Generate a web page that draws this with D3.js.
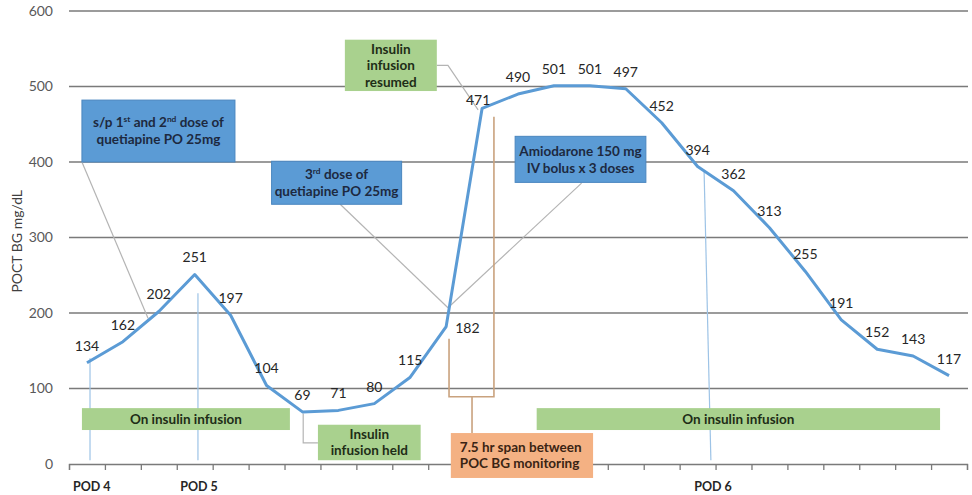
<!DOCTYPE html>
<html>
<head>
<meta charset="utf-8">
<script src="https://cdn.jsdelivr.net/npm/d3@7/dist/d3.min.js"></script>
<style>
  html, body { margin: 0; padding: 0; background: #fff; }
  svg { display: block; font-family: Lato, "Open Sans", sans-serif; }
</style>
</head>
<body>
<svg id="chart" width="972" height="495"></svg>
<script>
// Point-of-care blood glucose readings, one per sample slot
const categories = d3.range(1, 26).map(String);
const glucose = [134, 162, 202, 251, 197, 104, 69, 71, 80, 115, 182, 471, 490,
                 501, 501, 497, 452, 394, 362, 313, 255, 191, 152, 143, 117];
const yTicks = [0, 100, 200, 300, 400, 500, 600];
const yTitle = "POCT BG mg/dL";
const dayLabels = ["POD 4", "POD 5", "POD 6"];

const svg = d3.select("#chart");
const plot = { left: 69, right: 967, top: 11, bottom: 464 };

// Slot scale: slot i sits at the middle of [i, i+1]
const x = d3.scaleLinear().domain([0, categories.length]).range([plot.left, plot.right]);
const y = d3.scaleLinear().domain([0, 600]).range([plot.bottom, plot.top]);
const px = i => x(i + 0.5);

const gridColor = "#7a7a7a";
const textGrey = "#595959";

// Horizontal gridlines
svg.append("g").selectAll("line")
  .data(yTicks.filter(t => t > 0))
  .join("line")
  .attr("x1", plot.left).attr("x2", plot.right + 1)
  .attr("y1", d => y(d)).attr("y2", d => y(d))
  .attr("stroke", gridColor).attr("stroke-width", 1.3);

// Y axis labels
const yAxis = d3.axisLeft(y).tickValues(yTicks).tickSize(0).tickPadding(16);
svg.append("g").attr("transform", `translate(${plot.left},0)`).call(yAxis)
  .call(g => g.select(".domain").remove())
  .call(g => g.selectAll("text").attr("fill", textGrey)
      .style("font-size", "14px").style("font-family", "Lato, sans-serif"));

// Y title
svg.append("text")
  .attr("transform", `translate(22,${(y(300) + y(290))/2}) rotate(-90)`)
  .attr("text-anchor", "middle")
  .attr("fill", "#404040")
  .style("font-size", "14px")
  .text(yTitle);

// X axis: tick marks between slots, no tick text
const xAxis = d3.axisBottom(x).tickValues(d3.range(0, categories.length + 1))
  .tickSize(6).tickFormat("");
svg.append("g").attr("transform", `translate(0,${plot.bottom})`).call(xAxis)
  .call(g => g.selectAll("line, path").attr("stroke", gridColor).attr("stroke-width", 1.3));

// ---- annotation helpers (coordinates in slot / mg/dL units) ----
const pt = (u, v) => [x(u), y(v)];
function connector(points, color, width) {
  svg.append("path")
    .attr("d", d3.line()(points.map(p => pt(p[0], p[1]))))
    .attr("fill", "none").attr("stroke", color).attr("stroke-width", width || 1);
}
function box(u0, u1, vTop, vBot, fill, stroke, lines, textColor, opts = {}) {
  const x0 = x(u0), x1 = x(u1), y0 = y(vTop), y1 = y(vBot);
  svg.append("rect").attr("x", x0).attr("y", y0)
    .attr("width", x1 - x0).attr("height", y1 - y0)
    .attr("fill", fill).attr("stroke", stroke || "none").attr("stroke-width", 1);
  const lh = opts.lineHeight || 16;
  const fs = opts.fontSize || 13;
  const cy = (y0 + y1) / 2 - (lines.length - 1) * lh / 2;
  const anchor = opts.anchor || "middle";
  const tx = anchor === "middle" ? (x0 + x1) / 2 + (opts.dx || 0) : x0 + (opts.pad || 9);
  lines.forEach((ln, k) => {
    const t = svg.append("text")
      .attr("x", tx).attr("y", cy + k * lh)
      .attr("dy", "0.35em")
      .attr("text-anchor", anchor)
      .attr("fill", textColor)
      .style("font-size", fs + "px").style("font-weight", "bold");
    (Array.isArray(ln) ? ln : [ln]).forEach(seg => {
      if (typeof seg === "string") t.append("tspan").text(seg);
      else t.append("tspan").attr("baseline-shift", "super")
            .style("font-size", (fs * 0.62) + "px").text(seg.sup);
    });
  });
}

const greenFill = "#a9d18e", blueFill = "#5b9bd5", blueEdge = "#4a86bf",
      orangeFill = "#f4b183", leader = "#b4b4b4", podBlue = "#9dc3e6",
      bracket = "#c9a27e";

// Day markers
connector([[0.585, 140], [0.585, 5]], podBlue, 1.2);
connector([[3.59, 226], [3.59, 5]], podBlue, 1.2);
connector([[17.68, 389], [17.87, 5]], podBlue, 1.2);

// Leader lines from the medication / infusion notes
connector([[0.36, 400], [2.2, 193]], leader, 1.2);
connector([[7.55, 344], [10.55, 207]], leader, 1.2);
connector([[14.27, 372], [10.55, 207]], leader, 1.2);
connector([[10.24, 528], [10.55, 528], [11.39, 469]], leader, 1.2);
connector([[6.52, 67], [6.52, 28], [6.93, 28]], leader, 1.2);

// Bracket marking the 7.5 hr monitoring gap
connector([[10.58, 166], [10.58, 89], [11.83, 89], [11.83, 460]], bracket, 1.6);
connector([[11.22, 89], [11.22, 41]], bracket, 1.6);

// Glucose line
const line = d3.line().x((d, i) => px(i)).y(d => y(d));
svg.append("path").datum(glucose)
  .attr("d", line)
  .attr("fill", "none").attr("stroke", "#5b9bd5")
  .attr("stroke-width", 3).attr("stroke-linejoin", "round");

// Value labels
const labelPlacement = { 10: "right", 11: "near" };
svg.append("g").selectAll("text")
  .data(glucose)
  .join("text")
  .attr("x", (d, i) => labelPlacement[i] === "right" ? px(i) + 9 : px(i) + (labelPlacement[i] === "near" ? -4 : 0))
  .attr("y", (d, i) => labelPlacement[i] === "right" ? y(d) + 6 : y(d) - (labelPlacement[i] === "near" ? 3 : 12))
  .attr("text-anchor", (d, i) => labelPlacement[i] === "right" ? "start" : "middle")
  .attr("fill", "#262626")
  .style("font-size", "14px")
  .text(d => d);

// Notes
const nf = 13.5;
box(0.36, 6.15, 74, 45, greenFill, null, ["On insulin infusion"], "#1e2d17", { fontSize: nf });
box(13.02, 24.25, 74, 45, greenFill, null, ["On insulin infusion"], "#1e2d17", { fontSize: nf });
box(6.93, 9.79, 52, 5, greenFill, null, ["Insulin", "infusion held"], "#1e2d17", { fontSize: nf, lineHeight: 16 });
box(7.68, 10.24, 562, 494, greenFill, null, ["Insulin", "infusion", "resumed"], "#1e2d17", { fontSize: nf, lineHeight: 16.5 });
box(0.36, 4.62, 482, 400, blueFill, blueEdge,
    [["s/p 1", { sup: "st" }, " and 2", { sup: "nd" }, "  dose of"], "quetiapine PO 25mg"], "#1d2940",
    { fontSize: nf, lineHeight: 17 });
box(5.64, 9.26, 401, 344, blueFill, blueEdge,
    [["3", { sup: "rd" }, " dose of"], "quetiapine PO 25mg"], "#1d2940",
    { fontSize: nf, lineHeight: 17 });
box(12.42, 16.06, 434, 373, blueFill, blueEdge,
    ["Amiodarone 150  mg", "IV bolus x 3 doses"], "#1d2940",
    { fontSize: nf, lineHeight: 17 });
box(10.63, 14.59, 41, -18.5, orangeFill, null,
    ["7.5 hr span between", "POC BG monitoring"], "#3a2414",
    { fontSize: nf, lineHeight: 16, anchor: "start", pad: 9 });

// Post-operative day labels under the axis
const dayPos = [{ u: 0.11, anchor: "start" }, { u: 3.62, anchor: "middle" }, { u: 17.93, anchor: "middle" }];
svg.append("g").selectAll("text")
  .data(dayLabels)
  .join("text")
  .attr("x", (d, i) => x(dayPos[i].u))
  .attr("y", plot.bottom + 27)
  .attr("text-anchor", (d, i) => dayPos[i].anchor)
  .attr("fill", "#262626")
  .style("font-size", "12.5px").style("font-weight", "bold")
  .text(d => d);
</script>
</body>
</html>
